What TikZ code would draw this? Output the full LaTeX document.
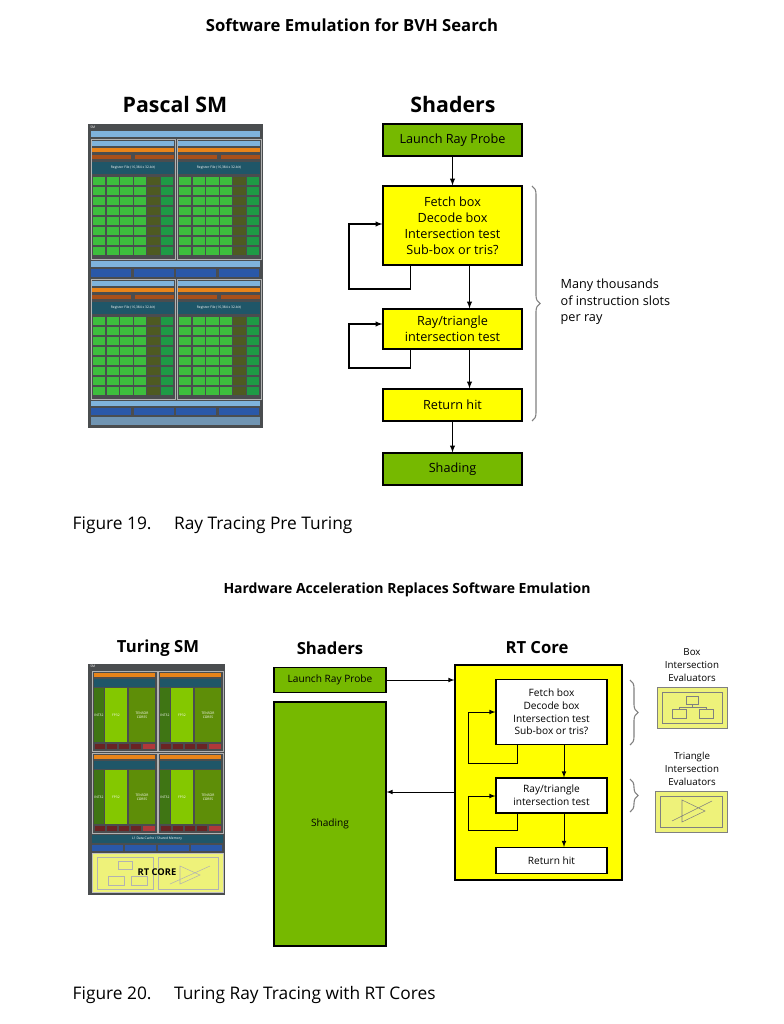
\documentclass[tikz,border=0pt]{standalone}
\usepackage{fontspec}
\setmainfont{Open Sans}
\usetikzlibrary{calc,decorations.pathreplacing}

\definecolor{nvgreen}{HTML}{76B900}
\definecolor{rtyellow}{HTML}{FFFF00}
\definecolor{icony}{HTML}{EEF27A}
\definecolor{smback}{HTML}{4A4D4F}
\definecolor{ibuf}{HTML}{7FB3DC}
\definecolor{warpc}{HTML}{E8841A}
\definecolor{dispc}{HTML}{A8501A}
\definecolor{regf}{HTML}{1F5668}
\definecolor{corec}{HTML}{3DBE3D}
\definecolor{ldstc}{HTML}{4E5A22}
\definecolor{sfuc}{HTML}{1E9A45}
\definecolor{texc}{HTML}{2A58A8}
\definecolor{intc}{HTML}{3F7514}
\definecolor{fpc}{HTML}{84C800}
\definecolor{tensc}{HTML}{5E8E08}
\definecolor{tldst}{HTML}{6A2424}
\definecolor{tsfu}{HTML}{B0383A}

\def\u{0.75pt}

\tikzset{
  box/.style={draw=black, thick, align=center, inner sep=0pt, font=\fontsize{9.5}{12}\selectfont},
  gbox/.style={box, fill=nvgreen},
  ybox/.style={box, fill=rtyellow},
  wbox/.style={draw=black, thick, fill=white, align=center, inner sep=0pt, font=\fontsize{7.6}{9.6}\selectfont},
  arr/.style={->, >=latex, thick},
  sarr/.style={->, >=latex, semithick},
  brc/.style={decorate, decoration={brace, amplitude=6pt}, draw=gray, thick},
  head/.style={font=\bfseries\fontsize{16}{18}\selectfont},
  shead/.style={font=\bfseries\fontsize{12.5}{15}\selectfont},
  capt/.style={anchor=west, font=\fontsize{13}{15}\selectfont},
  tiny/.style={text=white, font=\fontsize{2.5}{3}\selectfont, inner sep=0pt},
}

% one Pascal SM processing block
\newcommand\pcol[2]{%
  \begin{scope}[shift={(#1,#2)}]
    \draw[gray!60, thin] (0,0) rectangle (84,120);
    \fill[ibuf] (1,2) rectangle (83,7);
    \fill[warpc] (1,9) rectangle (83,13);
    \fill[dispc] (1,16) rectangle (40,20);
    \fill[dispc] (44,16) rectangle (83,20);
    \fill[regf] (1,23) rectangle (83,35);
    \node[tiny] at (42,29) {Register File (16,384 x 32-bit)};
    \foreach \r in {0,...,7} {
      \foreach \c in {0,...,3}
        \fill[corec] ({2+\c*13.6},{38+\r*10}) rectangle ++(12.4,8.2);
      \fill[ldstc] ({2+4*13.6},{38+\r*10}) rectangle ++(12.4,8.2);
      \fill[sfuc] ({2+5*13.6},{38+\r*10}) rectangle ++(12.4,8.2);
    }
  \end{scope}}

% one Turing SM processing block
\newcommand\tquad[2]{%
  \begin{scope}[shift={(#1,#2)}]
    \draw[gray!60, thin] (0,0) rectangle (65,80);
    \fill[warpc] (2,2) rectangle (63,6);
    \fill[regf] (2,8) rectangle (63,16);
    \fill[intc] (2,17) rectangle (12,71);
    \fill[fpc] (13,17) rectangle (35,71);
    \fill[tensc] (37,17) rectangle (63,71);
    \foreach \i in {0,...,3}
      \fill[tldst] ({3+\i*12},72.5) rectangle ++(10,5.5);
    \fill[tsfu] (51,72.5) rectangle (63,78);
    \node[tiny] at (7,44) {INT32};
    \node[tiny] at (24,44) {FP32};
    \node[tiny, align=center] at (50,44) {TENSOR\\CORES};
  \end{scope}}

\begin{document}
\begin{tikzpicture}[x=0.75pt, y=-0.75pt]
  \useasboundingbox (0,0) rectangle (783,1024);
  \fill[white] (0,0) rectangle (783,1024);

  % ---- Figure 19 ----
  \node[head, font=\bfseries\fontsize{12.5}{15}\selectfont] (t1) at (352,25) {Software Emulation for BVH Search};
  \node[head] (pascal) at (175,105) {Pascal SM};
  \node[head] (sh1) at (453,105) {Shaders};

  % Pascal SM
  \fill[smback] (88,124) rectangle (263,428);
  \node[tiny, anchor=north west] at (90,126) {SM};
  \fill[ibuf] (91,131) rectangle (260,137);
  \pcol{91}{139}
  \pcol{177}{139}
  \fill[ibuf] (91,261) rectangle (260,267);
  \foreach \i in {0,...,3}
    \fill[texc] ({91+\i*42.5},269) rectangle ++(40,8);
  \pcol{91}{279}
  \pcol{177}{279}
  \fill[ibuf] (91,401) rectangle (260,406);
  \foreach \i in {0,...,3}
    \fill[texc] ({91+\i*42.5},408) rectangle ++(40,7);
  \fill[ibuf!70!smback] (91,417) rectangle (260,425);

  % shader flow
  \node[gbox, minimum width={139*\u}, minimum height={32*\u}] (launch) at (452.5,140) {Launch Ray Probe};
  \node[ybox, minimum width={139*\u}, minimum height={79*\u}] (fetch) at (452.5,225.5)
    {Fetch box\\Decode box\\Intersection test\\Sub-box or tris?};
  \node[ybox, minimum width={139*\u}, minimum height={40*\u}] (tri) at (452.5,329)
    {Ray/triangle\\intersection test};
  \node[ybox, minimum width={139*\u}, minimum height={32*\u}] (ret) at (452.5,405) {Return hit};
  \node[gbox, minimum width={139*\u}, minimum height={32*\u}] (shade) at (452.5,469) {Shading};

  \coordinate (l1) at (349,289);
  \coordinate (l2) at (349,368);
  \draw[arr] (launch) -- (fetch);
  \draw[arr] ($(fetch.south)+(17,0)$) -- ($(tri.north)+(17,0)$);
  \draw[arr] ($(tri.south)+(17,0)$) -- ($(ret.north)+(17,0)$);
  \draw[arr] (ret) -- (shade);
  \draw[arr] ($(fetch.south)+(-42,0)$) |- (l1) -- ($(l1)+(0,-65)$) -- ($(fetch.west)+(0,-1.5)$);
  \draw[arr] ($(tri.south)+(-42,0)$) |- (l2) -- ($(l2)+(0,-44)$) -- ($(tri.west)+(0,-5)$);

  \draw[brc] (532,186) -- (532,421);
  \node[anchor=west, align=left, font=\fontsize{9.5}{12.5}\selectfont] (slots) at (556,302)
    {Many thousands\\of instruction slots\\per ray};

  \node[capt] (cap19) at (68,525) {Figure 19.\hspace{1.3em}Ray Tracing Pre Turing};

  % ---- Figure 20 ----
  \node[font=\bfseries\fontsize{10.5}{13}\selectfont] (t2) at (407,590) {Hardware Acceleration Replaces Software Emulation};
  \node[shead] (turing) at (158,648) {Turing SM};
  \node[shead] (sh2) at (330,648) {Shaders};
  \node[shead] (rth) at (537,648) {RT Core};

  % Turing SM
  \fill[smback] (88,664) rectangle (225,895);
  \node[tiny, anchor=north west] at (90,665) {SM};
  \tquad{92}{671}
  \tquad{158}{671}
  \tquad{92}{753}
  \tquad{158}{753}
  \fill[regf] (92,835) rectangle (223,843);
  \node[tiny] at (157,839) {L1 Data Cache / Shared Memory};
  \foreach \i in {0,...,3}
    \fill[texc] ({92+\i*33},845) rectangle ++(31,6);
  \fill[icony, draw=gray!50] (92,853) rectangle (223,892);
  \draw[gray!60] (97,857) rectangle (153,889);
  \draw[gray!60] (158,857) rectangle (218,889);
  \draw[gray!60] (118,861) rectangle ++(14,8) (108,876) rectangle ++(16,9) (131,876) rectangle ++(16,9);
  \draw[gray!60] (180,866) -- (180,884) -- (200,875) -- cycle (170,884) -- (210,866);
  \node[font=\bfseries\fontsize{7}{8}\selectfont] (rtc) at (157,872) {RT CORE};

  % shaders and RT core
  \node[box, fill=nvgreen, font=\fontsize{7.6}{9}\selectfont, minimum width={112*\u}, minimum height={25*\u}] (launch2) at (330,680) {Launch Ray Probe};
  \node[box, fill=nvgreen, font=\fontsize{7.6}{9}\selectfont, minimum width={112*\u}, minimum height={244*\u}] (shade2) at (330,824) {Shading};
  \node[box, fill=rtyellow, minimum width={167*\u}, minimum height={215*\u}] (rt) at (538.5,772.5) {};
  \node[wbox, minimum width={111*\u}, minimum height={65*\u}] (fetch2) at (551.5,712)
    {Fetch box\\Decode box\\Intersection test\\Sub-box or tris?};
  \node[wbox, minimum width={111*\u}, minimum height={35*\u}] (tri2) at (551.5,795.5)
    {Ray/triangle\\intersection test};
  \node[wbox, minimum width={111*\u}, minimum height={26*\u}] (ret2) at (551.5,860.5) {Return hit};

  \draw[sarr] (launch2.east |- 0,680) -- (rt.west |- 0,680);
  \draw[sarr] (rt.west |- 0,792) -- (shade2.east |- 0,792);
  \coordinate (l3) at (468,763);
  \coordinate (l4) at (468,830);
  \draw[sarr] ($(fetch2.south)+(12.5,0)$) -- ($(tri2.north)+(12.5,0)$);
  \draw[sarr] ($(tri2.south)+(12.5,0)$) -- ($(ret2.north)+(12.5,0)$);
  \draw[sarr] ($(fetch2.south)+(-34.5,0)$) |- (l3) -- ($(l3)+(0,-51)$) -- (fetch2.west);
  \draw[sarr] ($(tri2.south)+(-34.5,0)$) |- (l4) -- ($(l4)+(0,-34)$) -- ($(tri2.west)+(0,0.5)$);

  \draw[brc] (630,680) -- (630,745);
  \draw[brc] (630,779) -- (630,812);

  % evaluators
  \node[align=center, font=\fontsize{7.3}{9.5}\selectfont] (boxlbl) at (692,665) {Box\\Intersection\\Evaluators};
  \fill[icony, draw=gray] (657,687) rectangle (727,728);
  \draw[gray] (662,692) rectangle (722,723);
  \draw[gray] (686,696) rectangle ++(12,8) (672,709) rectangle ++(14,9) (699,709) rectangle ++(14,9);
  \draw[gray] (692,704) -- (692,707) (679,707) -- (706,707) (679,707) -- (679,709) (706,707) -- (706,709);
  \node[align=center, font=\fontsize{7.3}{9.5}\selectfont] (trilbl) at (692,769) {Triangle\\Intersection\\Evaluators};
  \fill[icony, draw=gray] (655,791) rectangle (727,832);
  \draw[gray] (660,796) rectangle (722,827);
  \draw[gray] (682,800) -- (682,822) -- (705,811) -- cycle (672,821) -- (712,801);

  \node[capt] (cap20) at (68,995) {Figure 20.\hspace{1.3em}Turing Ray Tracing with RT Cores};
\end{tikzpicture}
\end{document}
